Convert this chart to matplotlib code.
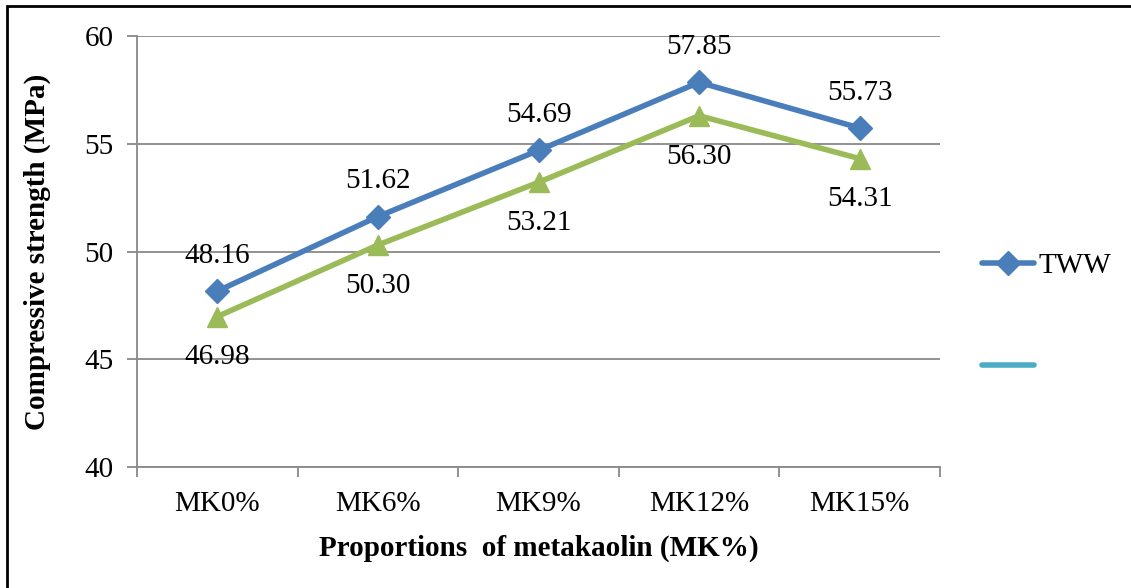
import matplotlib.pyplot as plt
from matplotlib.lines import Line2D
from matplotlib.patches import Rectangle

categories = ["MK0%", "MK6%", "MK9%", "MK12%", "MK15%"]
tww_values = [48.16, 51.62, 54.69, 57.85, 55.73]
second_values = [46.98, 50.30, 53.21, 56.30, 54.31]
legend_labels = ["TWW", ""]

plt.rcParams["font.family"] = ["Liberation Serif", "DejaVu Serif"]

W, H = 1131, 588
fig = plt.figure(figsize=(W / 100, H / 100), dpi=100)
ax = fig.add_axes([137 / W, 1 - 467 / H, (940 - 137) / W, (467 - 36) / H])

x = list(range(len(categories)))
ax.plot(x, tww_values, color="#4A7EBB", lw=4, marker="D", ms=12,
        solid_joinstyle="round", solid_capstyle="round", zorder=4)
ax.plot(x, second_values, color="#9BBB59", lw=4, marker="^", ms=15,
        solid_joinstyle="round", solid_capstyle="round", zorder=3)

label_fs = 21
for xi, v in zip(x, tww_values):
    ax.annotate(f"{v:.2f}", (xi, v), xytext=(0, 16), textcoords="offset points",
                ha="center", va="bottom", fontsize=label_fs, annotation_clip=False)
for xi, v in zip(x, second_values):
    ax.annotate(f"{v:.2f}", (xi, v), xytext=(0, -20), textcoords="offset points",
                ha="center", va="top", fontsize=label_fs)

ax.set_xlim(-0.5, len(categories) - 0.5)
ax.set_ylim(40, 60)
ax.set_yticks([40, 45, 50, 55, 60])
ax.set_xticks(x)
ax.set_xticklabels(categories)
ax.set_xticks([i - 0.5 for i in range(len(categories) + 1)], minor=True)
ax.tick_params(axis="x", which="major", length=0, pad=17, labelsize=21)
ax.tick_params(axis="x", which="minor", length=7, color="#898989", width=1.3)
ax.tick_params(axis="y", length=7, color="#898989", width=1.3, pad=10, labelsize=21)
ax.grid(axis="y", color="#898989", lw=1.3)
ax.set_axisbelow(True)
for side in ["top", "right"]:
    ax.spines[side].set_visible(False)
for side in ["left", "bottom"]:
    ax.spines[side].set_color("#898989")
    ax.spines[side].set_linewidth(1.3)

ax.set_xlabel("Proportions  of metakaolin (MK%)", fontsize=21, fontweight="bold", labelpad=13)
ax.set_ylabel("Compressive strength (MPa)", fontsize=21, fontweight="bold", labelpad=24)

handles = [
    Line2D([], [], color="#4A7EBB", lw=4, marker="D", ms=12, solid_capstyle="round"),
    Line2D([], [], color="#4BACC6", lw=4, solid_capstyle="round"),
]
fig.legend(handles, legend_labels, loc="upper left", bbox_to_anchor=(967 / W, 1 - 238 / H),
           frameon=False, fontsize=21, handlelength=1.8, handletextpad=0.15,
           labelspacing=2.6, borderpad=0)

fig.add_artist(Rectangle((7 / W, -0.1), 1.2, 1.1 - 6 / H, transform=fig.transFigure,
                         fill=False, edgecolor="black", lw=2))

fig.savefig("out.png", dpi=100)
